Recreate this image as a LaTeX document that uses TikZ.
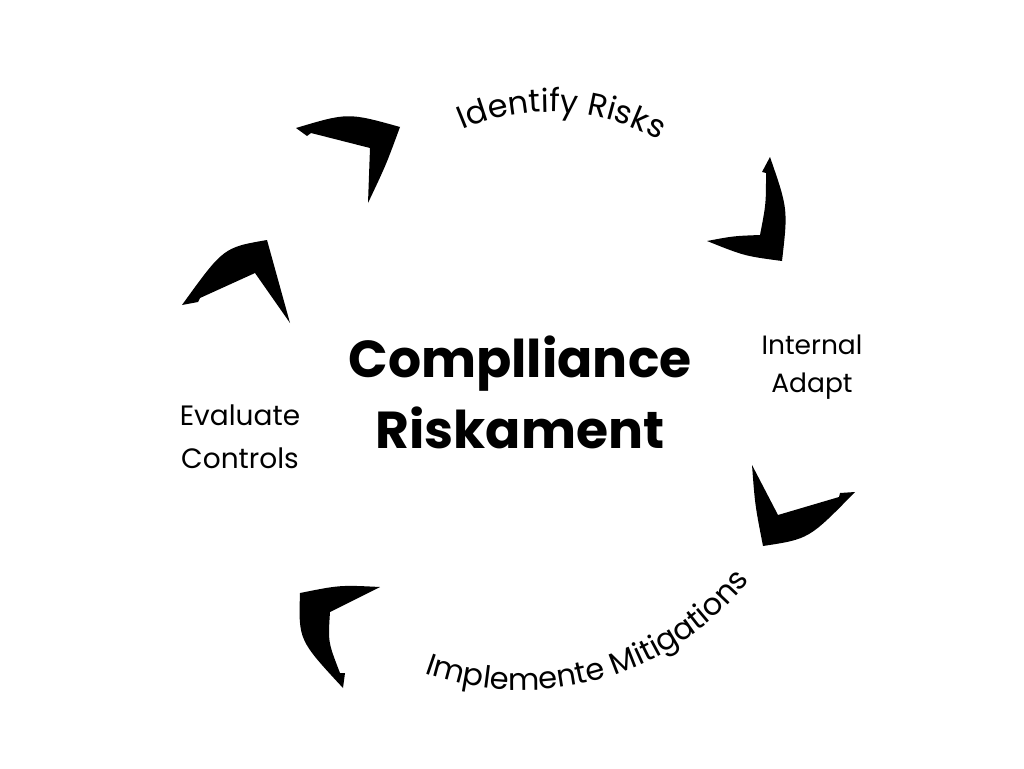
\documentclass[tikz,border=0pt]{standalone}
\usepackage{fontspec}
\setmainfont{Poppins}
\usetikzlibrary{decorations.text}
\newcommand\topfont{\fontsize{32}{36}\selectfont}
\newcommand\botfont{\fontsize{30.5}{36}\selectfont}
\newcommand\sidefont{\fontsize{26.5}{38}\selectfont}
\newcommand\evalfont{\fontsize{28}{43}\selectfont}
\newcommand\titlefont{\fontsize{52}{71}\selectfont\bfseries}
\tikzset{
  boom/.style={fill=black, draw=none},
  lbl/.style={align=center, text=black, inner sep=0pt},
}
\begin{document}
\begin{tikzpicture}[x=1pt,y=-1pt]
\useasboundingbox (0,0) rectangle (1024,768);
\fill[white] (0,0) rectangle (1024,768);

% boomerang arrows
\path[boom] (296,128) .. controls (348,112.5) .. (400,127)
  .. controls (386,165) .. (368,203) -- (370,148) -- (311,133) -- (307,136) -- cycle;
\path[boom] (770,157) .. controls (788,209) .. (782,261)
  .. controls (744.5,256) .. (707,241) .. controls (733.5,236) .. (760,235)
  .. controls (766,204) .. (766,173) -- (762,172) -- cycle;
\path[boom] (182,305) .. controls (223.5,247.5) .. (267,240)
  -- (290,323) -- (255,273) -- (200,298) -- (198,302) -- cycle;
\path[boom] (752,465) .. controls (755,505) .. (763,546)
  .. controls (809,539) .. (855,492) -- (840,493) -- (839,497)
  -- (778,515) -- cycle;
\path[boom] (380,587) .. controls (340,585) .. (300,593)
  .. controls (298.5,640) .. (343,688) -- (345,673) -- (340,673)
  .. controls (328,642) .. (330,612) -- cycle;

% curved labels
\coordinate (ctop) at (550,336);
\coordinate (cbot) at (522,400);
\path[decorate, decoration={text along path, text align=center,
  text={|\topfont|Identify Risks}}]
  (ctop) ++(-124:224) arc[start angle=-124, end angle=-50, radius=224];
\path[decorate, decoration={text along path, text align=center,
  text={|\botfont|Implemente Mitigations}}]
  (cbot) ++(116:290) arc[start angle=116, end angle=32, radius=290];

% straight labels
\node[lbl, font=\titlefont] (title) at (520,392) {Complliance\\Riskament};
\node[lbl, font=\sidefont] (adapt) at (812,367) {Internal\\Adapt};
\node[lbl, font=\evalfont] (eval) at (240,437) {Evaluate\\Controls};
\end{tikzpicture}
\end{document}
